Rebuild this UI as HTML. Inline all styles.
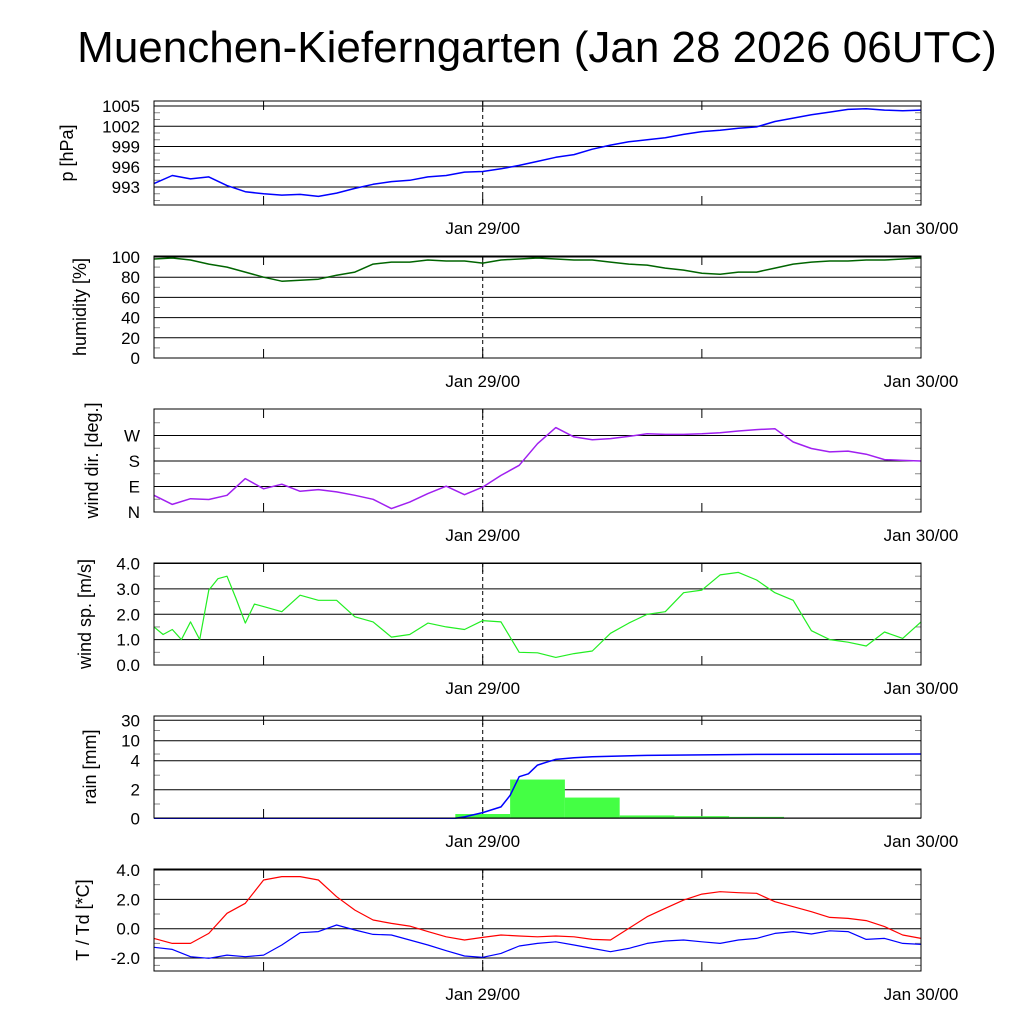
<!DOCTYPE html>
<html><head><meta charset="utf-8"><style>
html,body{margin:0;padding:0;background:#fff;}
svg{display:block;font-family:"Liberation Sans",sans-serif;}
</style></head><body>
<svg id="chart" width="1024" height="1024" viewBox="0 0 1024 1024" xmlns="http://www.w3.org/2000/svg">
<text x="537" y="62" font-size="44" text-anchor="middle" fill="#000">Muenchen-Kieferngarten (Jan 28 2026 06UTC)</text>
</svg>
<script>
// hours since Jan 28 06UTC
const hours = [0,1,2,3,4,5,6,7,8,9,10,11,12,13,14,15,16,17,18,19,20,21,22,23,24,25,26,27,28,29,30,31,32,33,34,35,36,37,38,39,40,41,42];
const pressure = [993.5,994.7,994.2,994.5,993.2,992.3,992,991.8,991.9,991.6,992.1,992.8,993.4,993.8,994,994.5,994.7,995.2,995.3,995.7,996.2,996.8,997.4,997.8,998.6,999.2,999.7,1000,1000.3,1000.8,1001.2,1001.4,1001.7,1001.9,1002.7,1003.2,1003.7,1004.1,1004.5,1004.6,1004.4,1004.3,1004.4];
const humidity = [98,99,97,93,90,85,80,76,77,78,82,85,93,95,95,97,96,96,94,97,98,99,98,97,97,95,93,92,89,87,84,83,85,85,89,93,95,96,96,97,97,98,99];
const windDir = [59,27,47,44,59,118,82,98,73,79,71,59,45,12,35,65,91,61,88,129,165,241,298,265,255,259,267,276,274,274,276,280,286,291,294,247,224,212,215,204,185,182,180];
const spHours = [0,0.5,1,1.5,2,2.5,3,3.5,4,4.5,5,5.5,6,7,8,9,10,11,12,13,14,15,16,17,18,19,20,21,22,23,24,25,26,27,28,29,30,31,32,33,34,35,36,37,38,39,40,41,42];
const windSpeed = [1.5,1.2,1.4,1.0,1.7,1.0,2.95,3.4,3.5,2.6,1.65,2.4,2.3,2.1,2.75,2.55,2.55,1.9,1.7,1.1,1.2,1.65,1.5,1.4,1.75,1.7,0.5,0.48,0.3,0.45,0.55,1.25,1.65,2.0,2.1,2.85,2.95,3.55,3.65,3.35,2.85,2.55,1.35,1.0,0.9,0.75,1.3,1.05,1.7];
const rainBarStart = [16.5,19.5,22.5,25.5,28.5,31.5];
const rainBarValue = [0.3,2.7,1.45,0.2,0.15,0.1];
const rainCumHours = [0,16.5,17,18,19,19.5,20,20.5,21,21.5,22,23,24,27,33,42];
const rainCum = [0,0,0.1,0.4,0.8,1.6,2.9,3.1,3.7,3.9,4.4,4.9,5.2,5.6,5.9,6.0];
const temp = [-0.66,-1.0,-1.0,-0.32,1.05,1.73,3.32,3.55,3.55,3.32,2.18,1.27,0.59,0.36,0.18,-0.2,-0.55,-0.77,-0.59,-0.43,-0.5,-0.55,-0.5,-0.55,-0.73,-0.77,0.02,0.82,1.39,1.95,2.36,2.52,2.45,2.41,1.84,1.5,1.16,0.77,0.7,0.55,0.14,-0.43,-0.66];
const dewpoint = [-1.27,-1.41,-1.91,-2.02,-1.8,-1.91,-1.8,-1.11,-0.27,-0.2,0.25,-0.09,-0.39,-0.43,-0.77,-1.11,-1.5,-1.86,-1.95,-1.68,-1.18,-1.0,-0.89,-1.11,-1.34,-1.57,-1.34,-1.0,-0.84,-0.77,-0.89,-1.0,-0.77,-0.66,-0.32,-0.2,-0.36,-0.14,-0.2,-0.73,-0.66,-1.0,-1.07];
const xTickHours = [6,18,30];
const xLabelHours = [18,42];
const xLabels = ["Jan 29/00","Jan 30/00"];
const pTicks = [993,996,999,1002,1005];
const humTicks = [0,20,40,60,80,100];
const dirTicks = [0,90,180,270];
const dirLabels = ["N","E","S","W"];
const spTicks = [0,1,2,3,4];
const rainTicks = [0,2,4,10,30];
const tTicks = [-2,0,2,4];

const NS="http://www.w3.org/2000/svg";
const svg=document.getElementById('chart');
const X0=154,X1=921,H0=0,H1=42;
const xs=h=>X0+(h-H0)/(H1-H0)*(X1-X0);
function el(tag,attrs,parent){const e=document.createElementNS(NS,tag);for(const k in attrs)e.setAttribute(k,attrs[k]);(parent||svg).appendChild(e);return e;}
function lin(d0,d1,r0,r1){return v=>r0+(v-d0)/(d1-d0)*(r1-r0);}
function rainY(v){const d=[0,2,4,10,30],r=[818.3,789.7,760.7,740.7,720.3];for(let i=0;i<d.length-1;i++){if(v<=d[i+1])return r[i]+(v-d[i])/(d[i+1]-d[i])*(r[i+1]-r[i]);}return r[r.length-1];}

const panels=[
 {name:'pressure',top:101,bot:205,y:lin(993,1005,187,106),ticks:pTicks,labels:pTicks.map(String),minor:[991,992,994,995,997,998,1000,1001,1003,1004],title:'p [hPa]',tx:73},
 {name:'humidity',top:256,bot:358,y:lin(0,100,358,257),ticks:humTicks,labels:humTicks.map(String),minor:[10,30,50,70,90],title:'humidity [%]',tx:86},
 {name:'wind-direction',top:409,bot:512,y:lin(0,270,512,435.5),ticks:dirTicks,labels:dirLabels,minor:[45,135,225,315],title:'wind dir. [deg.]',tx:98},
 {name:'wind-speed',top:563,bot:665,y:lin(0,4,665,563.5),ticks:spTicks,labels:spTicks.map(v=>v.toFixed(1)),minor:[0.5,1.5,2.5,3.5],title:'wind sp. [m/s]',tx:91},
 {name:'rain',top:716,bot:818,y:rainY,ticks:rainTicks,labels:rainTicks.map(String),minor:[1,3,6,20],title:'rain [mm]',tx:96},
 {name:'temperature',top:869,bot:971,y:lin(0,4,928.7,870),ticks:tTicks,labels:tTicks.map(v=>v.toFixed(1)),minor:[-2.5,-1,1,3],title:'T / Td [*C]',tx:89}
];

function line(p,hs,vs,color,name,w){
  const pts=hs.map((h,i)=>xs(h).toFixed(1)+','+p.y(vs[i]).toFixed(1)).join(' ');
  const pl=el('polyline',{points:pts,fill:'none',stroke:color,'stroke-width':w||1.5,'stroke-linejoin':'round'},p.g);
  
  
}

panels.forEach(p=>{
  const g=el('g',{});
  
  
  p.g=g;
  p.ticks.forEach((t,i)=>{
    const y=p.y(t);
    const gl=el('line',{x1:X0,x2:X1,y1:y,y2:y,stroke:'#000','stroke-width':1},g);
    
    
    const tl=el('text',{x:140,y:y+6,'font-size':17,'text-anchor':'end',fill:'#000'},g);
    tl.textContent=p.labels[i];
    
    
  });
  p.minor.forEach(t=>{
    const y=p.y(t);
    el('line',{x1:X0,x2:X0+6,y1:y,y2:y,stroke:'#888','stroke-width':1},g);
    el('line',{x1:X1-6,x2:X1,y1:y,y2:y,stroke:'#888','stroke-width':1},g);
  });
  xTickHours.forEach(h=>{
    el('line',{x1:xs(h),x2:xs(h),y1:p.bot,y2:p.bot-9,stroke:'#000','stroke-width':1},g);
    el('line',{x1:xs(h),x2:xs(h),y1:p.top,y2:p.top+9,stroke:'#000','stroke-width':1},g);
  });
  xLabelHours.forEach((h,i)=>{
    const t=el('text',{x:xs(h),y:p.bot+29,'font-size':17,'text-anchor':'middle',fill:'#000'},g);
    t.textContent=xLabels[i];
    
    
  });
  el('line',{x1:xs(18),x2:xs(18),y1:p.top,y2:p.bot,stroke:'#000','stroke-width':1,'stroke-dasharray':'4,3'},g);
  const cy=(p.top+p.bot)/2;
  const tt=el('text',{x:p.tx,y:cy,'font-size':18,'text-anchor':'middle',fill:'#000',transform:`rotate(-90 ${p.tx} ${cy})`},g);
  tt.textContent=p.title;
  
  
});

const [pp,ph,pd,ps,pr,pt]=panels;
line(pp,hours,pressure,'#0000ff','pressure-line');
line(ph,hours,humidity,'#006400','humidity-line');
line(pd,hours,windDir,'#a020f0','wind-direction-line');
line(ps,spHours,windSpeed,'#22ee22','wind-speed-line',1.2);
rainBarStart.forEach((h,i)=>{
  const y=pr.y(rainBarValue[i]);
  const r=el('rect',{x:xs(h),y:y,width:xs(h+3)-xs(h),height:pr.y(0)-y,fill:'#44ff44'},pr.g);
  
  
});
line(pr,rainCumHours,rainCum,'#0000ff','rain-cumulative-line');
line(pt,hours,temp,'#ff0000','temperature-line',1.2);
line(pt,hours,dewpoint,'#0000ff','dewpoint-line',1.2);

panels.forEach(p=>{
  const f=el('rect',{x:X0,y:p.top,width:X1-X0,height:p.bot-p.top,fill:'none',stroke:'#000','stroke-width':1},p.g);
  
  
});
</script>
</body></html>
